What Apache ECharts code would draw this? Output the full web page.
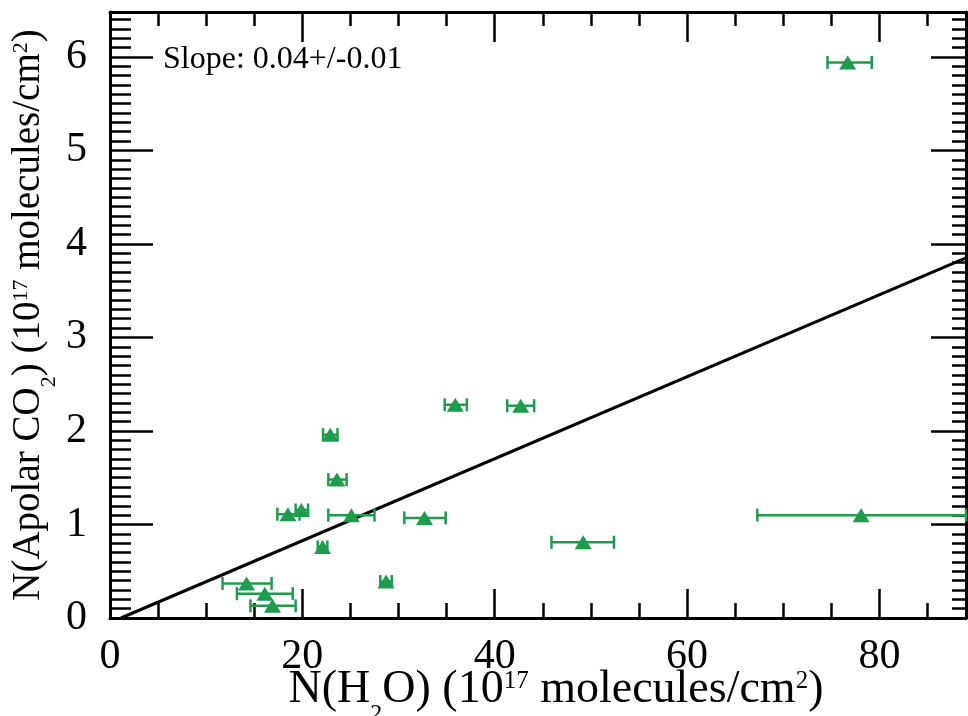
<!DOCTYPE html>
<html>
<head>
<meta charset="utf-8">
<script src="https://cdn.jsdelivr.net/npm/echarts@6/dist/echarts.min.js"></script>
<style>
  html, body { margin: 0; padding: 0; background: #fff; }
  #chart { width: 968px; height: 716px; }
</style>
</head>
<body>
<div id="chart"></div>
<script>
// H2O column density (10^17 molecules/cm^2) per source
const waterColumn = [35.9, 42.7, 22.9, 23.6, 18.5, 19.9, 25.1, 32.7, 49.2, 22.1, 28.7, 14.2, 16.1, 16.9, 76.7, 78.1];
// apolar CO2 column density (10^17 molecules/cm^2)
const apolarCO2 = [2.28, 2.27, 1.96, 1.48, 1.11, 1.155, 1.10, 1.07, 0.81, 0.76, 0.39, 0.37, 0.26, 0.13, 5.94, 1.10];
// horizontal error range on the H2O column
const waterLow  = [34.8, 41.3, 22.15, 22.7, 17.4, 19.3, 22.7, 30.6, 45.9, 21.6, 28.1, 11.7, 13.2, 14.6, 74.6, 67.3];
const waterHigh = [37.1, 44.1, 23.65, 24.6, 19.7, 20.6, 27.5, 34.9, 52.4, 22.6, 29.3, 16.8, 19.0, 19.3, 79.2, 89.0];
// linear fit through the sample
const fitX = [1.14, 89];
const fitY = [0, 3.85];
const slopeText = 'Slope: 0.04+/-0.01';

const xMax = 89, yMax = 6.48;
const green = '#1d9c4c';
const serif = '"Liberation Serif", "Times New Roman", serif';

// rich styles for axis titles: sub/superscripts shifted with padding
function titleRich(size, subSize, subDrop, supSize, supRise) {
  return {
    n:   { fontFamily: serif, fontSize: size, verticalAlign: 'middle', color: '#000' },
    sup: { fontFamily: serif, fontSize: supSize, verticalAlign: 'middle', color: '#000', padding: [0, 0, supRise, 0] },
    sub: { fontFamily: serif, fontSize: subSize, verticalAlign: 'middle', color: '#000', padding: [subDrop, 0, 0, 0] }
  };
}

const pointData = waterColumn.map((x, i) => [x, apolarCO2[i]]);
const errData = waterColumn.map((x, i) => [x, apolarCO2[i], waterLow[i], waterHigh[i]]);
const fitData = fitX.map((x, i) => [x, fitY[i]]);

function tickAxis(kind, pos, interval, len, extra) {
  const base = {
    type: 'value', position: pos, min: 0, max: kind === 'x' ? xMax : yMax, interval: interval,
    axisLine: { show: false, onZero: false },
    axisTick: { show: true, inside: true, length: len, lineStyle: { color: '#000', width: 2.5 } },
    axisLabel: { show: false },
    splitLine: { show: false }
  };
  return Object.assign(base, extra || {});
}

const axisLine = { show: true, onZero: false, lineStyle: { color: '#000', width: 3 } };

const chart = echarts.init(document.getElementById('chart'), null, { renderer: 'canvas' });
chart.setOption({
  animation: false,
  backgroundColor: '#fff',
  grid: { left: 110, right: 2, top: 12, bottom: 98, containLabel: false, outerBoundsMode: 'none' },
  graphic: [{
    type: 'text', left: 163, top: 44,
    style: { text: slopeText, font: '32px "Liberation Serif", serif', fill: '#000' }
  }],
  xAxis: [
    tickAxis('x', 'bottom', 20, 29, {
      axisLine: axisLine,
      axisLabel: { show: true, fontFamily: serif, fontSize: 42, color: '#000', margin: 18, showMaxLabel: false },
      name: '{n|N(H}{sub|2}{n|O) (10}{sup|17}{n| molecules/cm}{sup|2}{n|)}',
      nameLocation: 'middle', nameGap: 36, nameMoveOverlap: false,
      nameTextStyle: { rich: titleRich(46, 24, 48, 25, 17), padding: [0, 0, 0, 36] }
    }),
    tickAxis('x', 'bottom', 5, 15),
    tickAxis('x', 'top', 20, 30, { axisLine: axisLine }),
    tickAxis('x', 'top', 5, 14)
  ],
  yAxis: [
    tickAxis('y', 'left', 1, 43, {
      axisLine: axisLine,
      axisLabel: { show: true, fontFamily: serif, fontSize: 42, color: '#000', margin: 23, showMaxLabel: false },
      name: '{n|N(Apolar CO}{sub|2}{n|) (10}{sup|17}{n| molecules/cm}{sup|2}{n|)}',
      nameLocation: 'middle', nameGap: 50, nameRotate: 90, nameMoveOverlap: false,
      nameTextStyle: { rich: titleRich(39, 22, 40, 22, 16) }
    }),
    tickAxis('y', 'left', 0.1, 21),
    tickAxis('y', 'right', 1, 35, { axisLine: axisLine }),
    tickAxis('y', 'right', 0.1, 14)
  ],
  series: [
    {
      type: 'line', data: fitData, xAxisIndex: 0, yAxisIndex: 0,
      symbol: 'none', z: 1,
      lineStyle: { color: '#000', width: 3 }
    },
    {
      type: 'custom', data: errData, xAxisIndex: 0, yAxisIndex: 0, z: 2, clip: false,
      encode: { x: 0, y: 1 },
      renderItem: function (params, api) {
        const y = api.value(1);
        const lo = api.coord([api.value(2), y]);
        const hi = api.coord([api.value(3), y]);
        const cap = 6.5;
        const st = { stroke: green, lineWidth: 2.5 };
        return {
          type: 'group',
          children: [
            { type: 'line', shape: { x1: lo[0], y1: lo[1], x2: hi[0], y2: hi[1] }, style: st },
            { type: 'line', shape: { x1: lo[0], y1: lo[1] - cap, x2: lo[0], y2: lo[1] + cap }, style: st },
            { type: 'line', shape: { x1: hi[0], y1: hi[1] - cap, x2: hi[0], y2: hi[1] + cap }, style: st }
          ]
        };
      }
    },
    {
      type: 'scatter', data: pointData, xAxisIndex: 0, yAxisIndex: 0, z: 3,
      symbol: 'triangle', symbolSize: [17, 14],
      itemStyle: { color: green, opacity: 1 }
    }
  ]
});
</script>
</body>
</html>
